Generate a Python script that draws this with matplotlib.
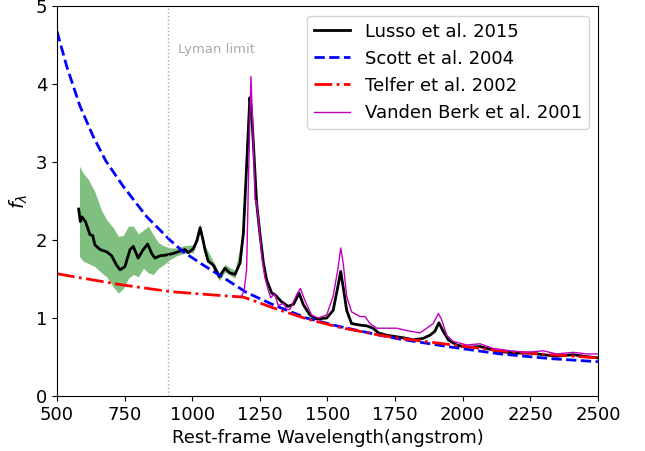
import matplotlib
matplotlib.use("Agg")
import matplotlib.pyplot as plt
import numpy as np

# Lusso et al. 2015 composite
lusso_wave = [580, 586, 592, 605, 622, 632, 640, 659, 684, 702, 720, 733, 751, 770, 782,
              800, 819, 835, 850, 862, 881, 905, 930, 955, 973, 985, 1004, 1018, 1029, 1040,
              1047, 1059, 1078, 1100, 1121, 1139, 1158, 1177, 1189, 1201, 1213, 1220, 1226,
              1238, 1250, 1263, 1275, 1294, 1306, 1330, 1355, 1375, 1395, 1411, 1435, 1460,
              1497, 1521, 1536, 1549, 1558, 1571, 1589, 1620, 1645, 1669, 1688, 1719, 1756,
              1793, 1817, 1854, 1879, 1897, 1912, 1928, 1947, 1977, 2015, 2064, 2101, 2138,
              2199, 2249, 2298, 2347, 2409, 2458, 2500]
lusso_flux = [2.40, 2.24, 2.30, 2.24, 2.07, 2.06, 1.94, 1.88, 1.85, 1.80, 1.68, 1.62, 1.66, 1.88, 1.92,
              1.77, 1.88, 1.95, 1.83, 1.77, 1.80, 1.81, 1.83, 1.86, 1.88, 1.84, 1.89, 2.00, 2.16, 2.00,
              1.88, 1.73, 1.68, 1.53, 1.64, 1.58, 1.56, 1.71, 2.09, 2.95, 3.83, 3.60, 3.25,
              2.48, 2.09, 1.71, 1.49, 1.32, 1.30, 1.21, 1.15, 1.18, 1.32, 1.17, 1.04, 0.99,
              1.00, 1.10, 1.36, 1.60, 1.40, 1.10, 0.93, 0.91, 0.90, 0.87, 0.81, 0.78, 0.76,
              0.74, 0.72, 0.74, 0.78, 0.83, 0.94, 0.83, 0.72, 0.655, 0.625, 0.635, 0.60, 0.57,
              0.55, 0.55, 0.53, 0.51, 0.53, 0.505, 0.49]

# uncertainty band of the Lusso composite
band_wave = [583, 597, 616, 640, 665, 684, 708, 727, 745, 764, 782, 801, 819, 838, 856,
             875, 893, 918, 942, 970, 1004, 1029, 1047, 1078, 1100, 1121, 1158, 1189, 1201]
band_hi = [2.95, 2.86, 2.78, 2.62, 2.38, 2.26, 2.16, 2.05, 2.06, 2.18, 2.18, 2.08, 2.13, 2.18, 2.07,
           1.97, 1.93, 1.90, 1.90, 1.93, 1.94, 2.21, 1.93, 1.73, 1.58, 1.69, 1.61, 2.14, 3.00]
band_lo = [1.79, 1.73, 1.70, 1.66, 1.58, 1.53, 1.40, 1.32, 1.38, 1.51, 1.56, 1.53, 1.64, 1.58, 1.56,
           1.64, 1.68, 1.75, 1.80, 1.83, 1.84, 2.11, 1.83, 1.63, 1.48, 1.59, 1.51, 2.04, 2.90]

# Scott et al. 2004
scott_wave = [500, 536, 585, 634, 680, 745, 832, 918, 967, 1041, 1115, 1200, 1300, 1423,
              1546, 1694, 1768, 1953, 2138, 2322, 2500]
scott_flux = [4.68, 4.23, 3.72, 3.33, 3.02, 2.69, 2.30, 2.00, 1.85, 1.68, 1.52, 1.33, 1.17, 1.00,
              0.89, 0.78, 0.73, 0.63, 0.54, 0.48, 0.44]

# Telfer et al. 2002
telfer_wave = [500, 548, 733, 918, 1103, 1188, 1230, 1300, 1423, 1546, 1694, 1768, 1953,
               2138, 2322, 2500]
telfer_flux = [1.57, 1.54, 1.43, 1.34, 1.29, 1.27, 1.22, 1.13, 0.99, 0.88, 0.78, 0.74, 0.66,
               0.58, 0.53, 0.49]

# Vanden Berk et al. 2001
vb_wave = [1183, 1192, 1201, 1208, 1217, 1226, 1232, 1237, 1244, 1256, 1268, 1281, 1290, 1300,
           1306, 1318, 1337, 1351, 1361, 1386, 1400, 1416, 1441, 1466, 1497, 1521, 1540, 1549,
           1558, 1571, 1589, 1620, 1639, 1657, 1682, 1719, 1756, 1793, 1842, 1867, 1891, 1910,
           1922, 1941, 1965, 2015, 2064, 2113, 2175, 2236, 2298, 2347, 2409, 2458, 2500]
vb_flux = [1.28, 1.36, 1.62, 2.80, 4.10, 3.25, 2.52, 2.50, 2.30, 1.83, 1.53, 1.36, 1.26, 1.30,
           1.30, 1.16, 1.19, 1.11, 1.11, 1.30, 1.38, 1.23, 1.04, 1.00, 1.04, 1.28, 1.66, 1.90,
           1.71, 1.28, 1.08, 1.02, 1.02, 0.93, 0.87, 0.87, 0.87, 0.84, 0.81, 0.87, 0.93, 1.06,
           0.98, 0.78, 0.70, 0.655, 0.67, 0.61, 0.58, 0.56, 0.58, 0.54, 0.56, 0.54, 0.54]

lyman_limit = 912

fig = plt.figure(figsize=(6.45, 4.51), dpi=100)
ax = fig.add_axes([0.0884, 0.122, 0.8386, 0.8636])

ax.fill_between(band_wave, band_lo, band_hi, color='green', alpha=0.5, linewidth=0)
ax.plot(lusso_wave, lusso_flux, color='black', lw=2, label="Lusso et al. 2015")
ax.plot(scott_wave, scott_flux, color='blue', lw=2, ls='--', label="Scott et al. 2004")
ax.plot(telfer_wave, telfer_flux, color='red', lw=2, ls='-.', label="Telfer et al. 2002")
ax.plot(vb_wave, vb_flux, color='m', lw=1, label="Vanden Berk et al. 2001")

ax.axvline(lyman_limit, color='darkgray', ls=':', lw=1)
ax.text(947, 4.45, "Lyman limit", color='darkgray', fontsize=9.5, ha='left', va='center')

ax.set_xlim(500, 2500)
ax.set_ylim(0, 5)
ax.tick_params(labelsize=13)
ax.set_xlabel("Rest-frame Wavelength(angstrom)", fontsize=13)
ax.set_ylabel(r"$f_\lambda$", fontsize=14)

ax.legend(loc="upper right", fontsize=13)

fig.savefig("out.png", dpi=100)
